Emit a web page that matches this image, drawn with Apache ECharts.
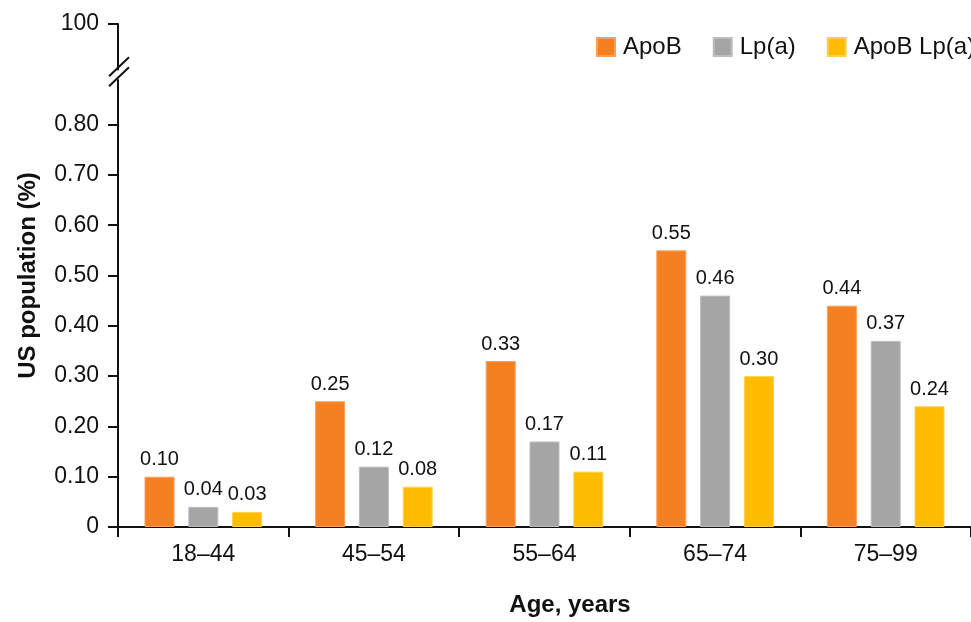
<!DOCTYPE html>
<html>
<head>
<meta charset="utf-8">
<script src="https://cdn.jsdelivr.net/npm/echarts@6/dist/echarts.min.js"></script>
<style>
html,body{margin:0;padding:0;background:#fff;}
#main{width:971px;height:622px;}
</style>
</head>
<body>
<div id="main"></div>
<script>
// ---- data ----
var categories = ['18\u201344', '45\u201354', '55\u201364', '65\u201374', '75\u201399'];
var seriesNames = ['ApoB', 'Lp(a)', 'ApoB Lp(a)'];
var apoB = [0.10, 0.25, 0.33, 0.55, 0.44];
var lpa = [0.04, 0.12, 0.17, 0.46, 0.37];
var apoBLpa = [0.03, 0.08, 0.11, 0.30, 0.24];
// y tick positions (top tick stands for 100 above the axis break)
var yTickValues = [0, 0.1, 0.2, 0.3, 0.4, 0.5, 0.6, 0.7, 0.8, 1.0];
var yTickLabels = ['0', '0.10', '0.20', '0.30', '0.40', '0.50', '0.60', '0.70', '0.80', '100'];
var breakValue = 0.9;

var colors = ['#F58021', '#A5A5A5', '#FFBC00'];
var borderColors = ['#F8A060', '#BDBDBD', '#FFD050'];
var FONT = 'Liberation Sans, Arial, sans-serif';

var chart = echarts.init(document.getElementById('main'), null, {renderer: 'canvas'});

function makeSeries(name, data, color, border) {
  return {
    name: name,
    type: 'bar',
    data: data,
    barWidth: 30,
    barGap: '46%',
    itemStyle: {color: color, borderColor: border, borderWidth: 1},
    label: {
      show: true,
      position: 'top',
      distance: 7,
      color: '#111',
      fontFamily: FONT,
      fontSize: 20,
      formatter: function (p) { return p.value.toFixed(2); }
    }
  };
}

var option = {
  animation: false,
  backgroundColor: '#fff',
  textStyle: {fontFamily: FONT},
  legend: {
    data: seriesNames,
    left: 591,
    top: 30,
    width: 460,
    orient: 'horizontal',
    icon: 'rect',
    itemWidth: 18,
    itemHeight: 18,
    itemGap: 31,
    textStyle: {fontFamily: FONT, fontSize: 24, color: '#111', padding: [0, 0, 0, 3]}
  },
  grid: {left: 118, right: -4, top: 24, bottom: 89, containLabel: false},
  xAxis: {
    type: 'category',
    data: categories,
    name: 'Age, years',
    nameLocation: 'middle',
    nameGap: 66,
    nameTextStyle: {fontFamily: FONT, fontSize: 24, fontWeight: 'bold', color: '#111', padding: [0, 0, 0, 51]},
    axisLine: {lineStyle: {color: '#111', width: 2}},
    axisTick: {show: true, length: 10, lineStyle: {color: '#111', width: 2}},
    axisLabel: {fontFamily: FONT, fontSize: 23, color: '#111', margin: 16}
  },
  yAxis: {
    type: 'value',
    min: 0,
    max: 1.0,
    interval: 0.1,
    name: 'US population (%)',
    nameLocation: 'middle',
    nameGap: 78,
    nameTextStyle: {fontFamily: FONT, fontSize: 24, fontWeight: 'bold', color: '#111'},
    splitLine: {show: false},
    axisLine: {show: true, lineStyle: {color: '#111', width: 2}},
    axisTick: {show: true, length: 10, customValues: yTickValues, lineStyle: {color: '#111', width: 2}},
    axisLabel: {
      fontFamily: FONT, fontSize: 23, color: '#111', margin: 19,
      customValues: yTickValues,
      formatter: function (v) {
        for (var i = 0; i < yTickValues.length; i++) {
          if (Math.abs(yTickValues[i] - v) < 1e-9) return yTickLabels[i];
        }
        return '';
      }
    }
  },
  series: [
    makeSeries(seriesNames[0], apoB, colors[0], borderColors[0]),
    makeSeries(seriesNames[1], lpa, colors[1], borderColors[1]),
    makeSeries(seriesNames[2], apoBLpa, colors[2], borderColors[2])
  ]
};
chart.setOption(option);

// axis break symbol at breakValue
var by = chart.convertToPixel({yAxisIndex: 0}, breakValue);
var gx = 118;
chart.setOption({
  graphic: [
    {type: 'rect', shape: {x: gx - 3, y: by - 4, width: 6, height: 9}, style: {fill: '#fff'}, z: 100},
    {type: 'line', shape: {x1: gx - 9, y1: by + 2, x2: gx + 11, y2: by - 17}, style: {stroke: '#111', lineWidth: 2}, z: 101},
    {type: 'line', shape: {x1: gx - 9, y1: by + 12, x2: gx + 11, y2: by - 7}, style: {stroke: '#111', lineWidth: 2}, z: 101}
  ]
});
</script>
</body>
</html>
